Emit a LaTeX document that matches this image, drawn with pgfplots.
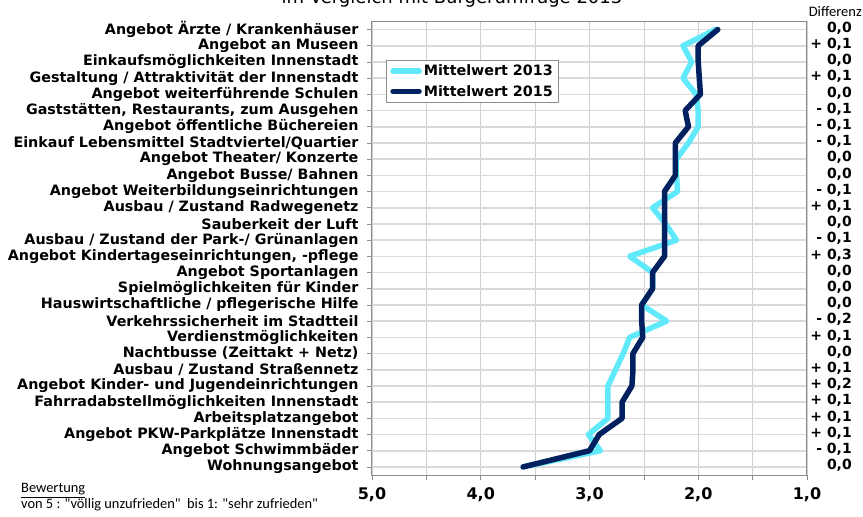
\documentclass[border=0pt]{standalone}
\usepackage{fontspec}
\setmainfont{DejaVu Sans}
\newfontfamily\calib{Carlito}
\usepackage{pgfplots}
\usepackage{pgfplotstable}
\pgfplotsset{compat=1.18}
\definecolor{c13}{HTML}{5FE9FA}
\definecolor{c15}{HTML}{002060}
\definecolor{gridh}{HTML}{DADADA}
\definecolor{gridv}{HTML}{CFCFCF}
\definecolor{framec}{HTML}{8C8C8C}

% Mittelwerte je Merkmal (Zeile 1 = oben)
\pgfplotstableread{
row m13  m15
1   1.84 1.82
2   2.14 2.00
3   2.06 2.00
4   2.14 1.99
5   2.02 1.98
6   2.00 2.12
7   2.00 2.09
8   2.09 2.21
9   2.20 2.21
10  2.20 2.21
11  2.19 2.31
12  2.42 2.31
13  2.30 2.31
14  2.20 2.31
15  2.63 2.31
16  2.42 2.42
17  2.42 2.42
18  2.52 2.52
19  2.29 2.52
20  2.63 2.51
21  2.69 2.60
22  2.76 2.60
23  2.83 2.61
24  2.83 2.70
25  2.83 2.70
26  3.01 2.91
27  2.90 3.00
28  3.61 3.61
}\data

\begin{document}
\begin{tikzpicture}
\begin{axis}[
  at={(0pt,0pt)}, anchor=south west,
  scale only axis, width=435pt, height=453.6pt,
  x dir=reverse, xmin=1, xmax=5,
  y dir=reverse, ymin=0.5, ymax=28.5,
  xtick={1,2,3,4,5}, minor xtick={1.5,2.5,3.5,4.5},
  ytick={1,...,28},
  yticklabels={
    Angebot Ärzte / Krankenhäuser,
    Angebot an Museen,
    Einkaufsmöglichkeiten Innenstadt,
    Gestaltung / Attraktivität der Innenstadt,
    Angebot weiterführende Schulen,
    {Gaststätten, Restaurants, zum Ausgehen},
    Angebot öffentliche Büchereien,
    Einkauf Lebensmittel Stadtviertel/Quartier,
    Angebot Theater/ Konzerte,
    Angebot Busse/ Bahnen,
    Angebot Weiterbildungseinrichtungen,
    Ausbau / Zustand Radwegenetz,
    Sauberkeit der Luft,
    Ausbau / Zustand der Park-/ Grünanlagen,
    {Angebot Kindertageseinrichtungen, -pflege},
    Angebot Sportanlagen,
    Spielmöglichkeiten für Kinder,
    Hauswirtschaftliche / pflegerische Hilfe,
    Verkehrssicherheit im Stadtteil,
    Verdienstmöglichkeiten,
    Nachtbusse (Zeittakt + Netz),
    Ausbau / Zustand Straßennetz,
    Angebot Kinder- und Jugendeinrichtungen,
    Fahrradabstellmöglichkeiten Innenstadt,
    Arbeitsplatzangebot,
    Angebot PKW-Parkplätze Innenstadt,
    Angebot Schwimmbäder,
    Wohnungsangebot},
  xticklabel={\pgfmathprintnumber[fixed,fixed zerofill,precision=1,use comma,assume math mode=true]{\tick}},
  xticklabel style={font=\fontsize{16}{16}\selectfont\bfseries, yshift=-4pt},
  yticklabel style={font=\fontsize{14.3}{14.3}\selectfont\bfseries, xshift=-5pt},
  xtick pos=bottom, ytick pos=left,
  tick align=outside, major tick length=5pt, minor tick length=5pt,
  tick style={draw=framec, line width=0.6pt},
  axis line style={draw=framec, line width=1pt},
  xmajorgrids, xminorgrids, ymajorgrids,
  every axis x grid/.append style={draw=gridv, line width=0.6pt},
  every axis y grid/.append style={draw=gridh, line width=1.6pt},
  legend style={at={(0.032,0.916)}, anchor=north west, draw=framec, line width=0.8pt,
    font=\fontsize{14.3}{14.3}\selectfont\bfseries, inner xsep=4pt, inner ysep=3pt,
    row sep=4pt},
  legend cell align=left,
  legend image code/.code={\draw[#1, line width=5.5pt, line cap=round] (0pt,0pt) -- (26pt,0pt);},
]
\addplot[c13, line width=5.5pt, line join=round, line cap=round] table[x=m13, y=row]{\data};
\addplot[c15, line width=5.5pt, line join=round, line cap=round] table[x=m15, y=row]{\data};
\legend{Mittelwert 2013, Mittelwert 2015}
\end{axis}

% Differenz-Spalte rechts
\foreach \r/\d in {1/{0,0}, 2/{+ 0,1}, 3/{0,0}, 4/{+ 0,1}, 5/{0,0}, 6/{- 0,1}, 7/{- 0,1},
  8/{- 0,1}, 9/{0,0}, 10/{0,0}, 11/{- 0,1}, 12/{+ 0,1}, 13/{0,0}, 14/{- 0,1},
  15/{+ 0,3}, 16/{0,0}, 17/{0,0}, 18/{0,0}, 19/{- 0,2}, 20/{+ 0,1}, 21/{0,0},
  22/{+ 0,1}, 23/{+ 0,2}, 24/{+ 0,1}, 25/{+ 0,1}, 26/{+ 0,1}, 27/{- 0,1}, 28/{0,0}}
  \node[anchor=mid east, inner sep=0pt, font=\fontsize{14}{14}\selectfont\bfseries]
    at (480pt, {(453.6-(\r-0.5)*16.2)*1pt}) {\d};
\node[anchor=base east, inner sep=0pt] at (490pt,458pt) {\calib\fontsize{14.5}{14.5}\selectfont Differenz};
\node[anchor=base, inner sep=0pt] at (80pt,471pt) {\fontsize{18}{18}\selectfont im Vergleich mit Bürgerumfrage 2013};
\node[anchor=base west, inner sep=0pt] at (-351pt,-18pt) {\calib\fontsize{14.4}{14.4}\selectfont \underline{Bewertung}};
\node[anchor=base west, inner sep=0pt] at (-351pt,-34pt) {\calib\fontsize{14.4}{14.4}\selectfont von 5 : "völlig unzufrieden"\ \ bis 1: "sehr zufrieden"};
\pgfresetboundingbox
\useasboundingbox (-372pt,-42pt) rectangle (491pt,475pt);
\end{tikzpicture}
\end{document}
